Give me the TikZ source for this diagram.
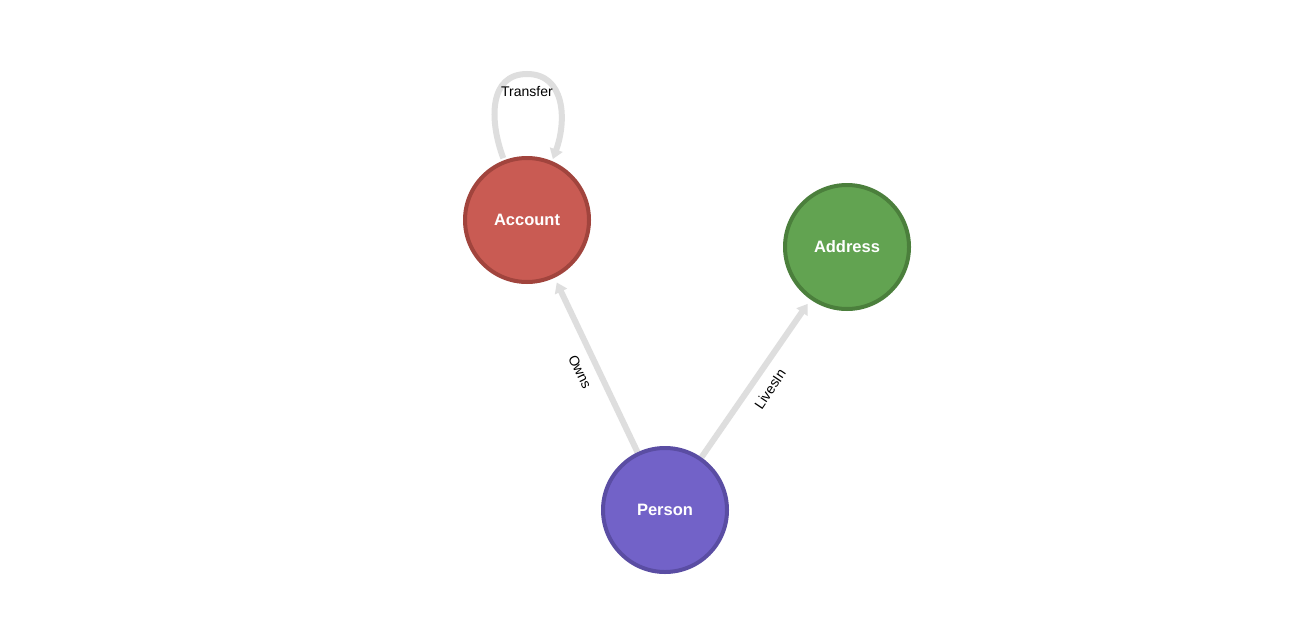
\documentclass[tikz,border=0pt]{standalone}
\usepackage{fontspec}
\setmainfont{Liberation Sans}
\usetikzlibrary{arrows.meta}
\definecolor{accfill}{HTML}{C95B53}
\definecolor{accdraw}{HTML}{A1443D}
\definecolor{addfill}{HTML}{62A351}
\definecolor{adddraw}{HTML}{4B7F3C}
\definecolor{perfill}{HTML}{7262C8}
\definecolor{perdraw}{HTML}{5A4DA3}
\definecolor{edgegray}{HTML}{DEDEDE}
\begin{document}
\begin{tikzpicture}[x=1pt,y=-1pt,
  gnode/.style={circle,line width=4pt,minimum size=124pt,inner sep=0pt,text=white,
    font=\fontsize{16.5}{18}\selectfont\bfseries},
  rel/.style={draw=edgegray,line width=6pt,-{Triangle[length=10pt,width=13pt]},shorten >=3pt},
  elabel/.style={font=\fontsize{14}{16}\selectfont,text=black,inner sep=1pt}]
\useasboundingbox (0,0) rectangle (1308,618);
\fill[white] (0,0) rectangle (1308,618);
% edges first (behind nodes)
\coordinate (pc) at (665,510);
\coordinate (ac) at (527,220);
\coordinate (dc) at (847,247);
\node[circle,minimum size=132pt,inner sep=0pt] (accb) at (ac) {};
\node[circle,minimum size=132pt,inner sep=0pt] (addb) at (dc) {};
\node[circle,minimum size=128pt,inner sep=0pt] (perb) at (pc) {};
\draw[rel] (perb) -- (accb);
\draw[rel] (perb) -- (addb);
\draw[rel,shorten >=0pt] (accb.111) .. controls (489,120) and (489,74) .. (527,74)
   .. controls (565,74) and (567,120) .. (accb.67);
% nodes
\node[gnode,fill=accfill,draw=accdraw] (account) at (ac) {Account};
\node[gnode,fill=addfill,draw=adddraw] (address) at (dc) {Address};
\node[gnode,fill=perfill,draw=perdraw] (person) at (pc) {Person};
% labels
\node[elabel] (lt) at (527,92) {Transfer};
\node[elabel,rotate=-64] (lo) at (580,372) {Owns};
\node[elabel,rotate=56] (ll) at (770,389) {LivesIn};
\end{tikzpicture}
\end{document}
